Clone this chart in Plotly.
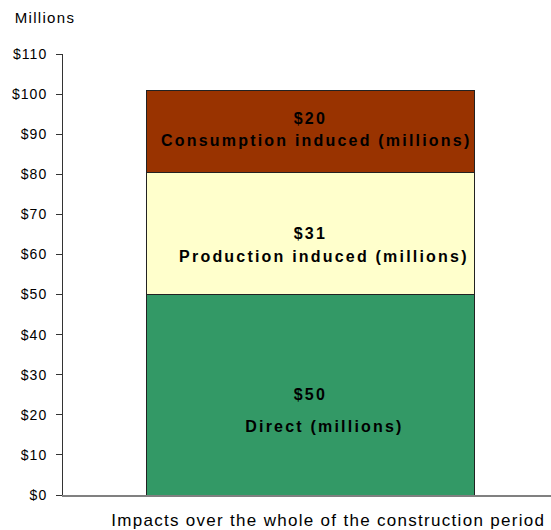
import plotly.graph_objects as go

# Data
segments = ["Direct", "Production induced", "Consumption induced"]
values = [49.9, 30.6, 20.5]
value_labels = ["$50", "$31", "$20"]
segment_labels = ["Direct (millions)", "Production induced (millions)", "Consumption induced (millions)"]
category = "Impacts over the whole of the construction period"

# Estilo
colors = ["#339966", "#FFFFCC", "#993300"]
value_shift = [0, 0, 13]      # px
label_shift = [-32, -23, -9]  # px
label_xshift = [14, 14, 6]    # px

fig = go.Figure()

for name, v, c in zip(segments, values, colors):
    fig.add_trace(go.Bar(
        x=[0],
        y=[v],
        name=name,
        width=0.672,
        marker=dict(color=c, line=dict(color="#222222", width=1)),
        hoverinfo="skip",
    ))

# Etiquetas dentro de las barras
label_font = dict(family="Liberation Sans", size=16, color="black", weight="bold")
base = 0
for i, (v, vl, sl) in enumerate(zip(values, value_labels, segment_labels)):
    mid = base + v / 2
    fig.add_annotation(x=0.0, y=mid, text=vl, showarrow=False, yshift=value_shift[i], xshift=0,
                       font=label_font)
    fig.add_annotation(x=0.0, y=mid, text=sl, showarrow=False, yshift=label_shift[i],
                       xshift=label_xshift[i], font=label_font)
    base += v

fig.add_annotation(xref="paper", yref="paper", x=-0.093, y=1.082, xanchor="left", yanchor="middle",
                   text="Millions", showarrow=False,
                   font=dict(family="Liberation Sans", size=15, color="black"))

fig.add_annotation(xref="paper", yref="paper", x=0.543, y=-0.057, xanchor="center", yanchor="middle",
                   text=category, showarrow=False,
                   font=dict(family="Liberation Sans", size=17, color="black"))

fig.update_layout(
    barmode="stack",
    width=551,
    height=530,
    margin=dict(l=63, r=0, t=54, b=35),
    plot_bgcolor="white",
    paper_bgcolor="white",
    showlegend=False,
    font=dict(family="Liberation Sans", size=14, color="black"),
    xaxis=dict(
        range=[-0.507, 0.493],
        showticklabels=False,
        showgrid=False,
        zeroline=False,
        showline=True,
        linecolor="#808080",
        linewidth=2,
        ticks="",
        fixedrange=True,
    ),
    yaxis=dict(
        range=[0, 110],
        dtick=10,
        tickprefix="$",
        showgrid=False,
        zeroline=False,
        showline=True,
        linecolor="#333333",
        linewidth=1,
        ticks="outside",
        ticklen=6,
        tickcolor="#333333",
        ticklabelstandoff=6,
        fixedrange=True,
    ),
)

spacing_js = """
document.body.style.margin = '0';
document.body.style.overflow = 'hidden';
var gd = document.getElementById('{plot_id}');
function spaceText() {
  gd.querySelectorAll('.annotation-text').forEach(function (t) {
    var w = t.style.fontWeight || '';
    var bold = w.indexOf('bold') >= 0 || w === '700';
    t.style.letterSpacing = bold ? '2.2px' : '1.3px';
  });
  gd.querySelectorAll('.ytick text').forEach(function (t) {
    t.style.letterSpacing = '1px';
  });
}
spaceText();
gd.on('plotly_afterplot', spaceText);
"""

fig.write_html("out.html", post_script=spacing_js, config={"displayModeBar": False})
